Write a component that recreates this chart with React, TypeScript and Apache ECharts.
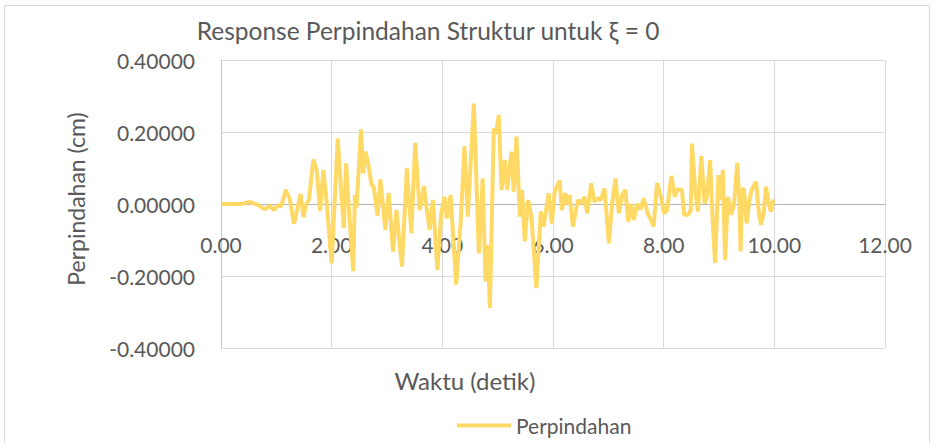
import React, { useEffect, useRef } from "react";
import * as echarts from "echarts";

const times: number[] = [
  0.0, 0.1, 0.2, 0.3, 0.4, 0.52, 0.6, 0.67, 0.79, 0.88, 0.96, 1.03, 1.09, 1.17, 1.24, 1.32, 1.38, 1.44, 1.49, 1.54,
  1.59, 1.67, 1.73, 1.79, 1.85, 1.91, 2.0, 2.11, 2.17, 2.22, 2.26, 2.31, 2.39, 2.42, 2.45, 2.53, 2.57, 2.61, 2.66, 2.72,
  2.76, 2.83, 2.88, 2.97, 3.03, 3.11, 3.17, 3.27, 3.36, 3.44, 3.51, 3.59, 3.67, 3.71, 3.77, 3.83, 3.91, 3.98, 4.04, 4.08,
  4.15, 4.25, 4.33, 4.4, 4.46, 4.57, 4.66, 4.73, 4.78, 4.82, 4.86, 4.93, 4.97, 5.02, 5.07, 5.13, 5.17, 5.25, 5.29, 5.34,
  5.4, 5.44, 5.49, 5.55, 5.61, 5.7, 5.78, 5.83, 5.92, 5.98, 6.03, 6.12, 6.16, 6.22, 6.27, 6.3, 6.36, 6.45, 6.51, 6.57,
  6.62, 6.69, 6.75, 6.81, 6.86, 6.93, 7.01, 7.07, 7.13, 7.19, 7.25, 7.31, 7.36, 7.41, 7.46, 7.52, 7.58, 7.64, 7.71, 7.77,
  7.82, 7.88, 7.95, 8.01, 8.06, 8.14, 8.2, 8.25, 8.33, 8.37, 8.44, 8.49, 8.51, 8.57, 8.62, 8.68, 8.74, 8.78, 8.84, 8.89,
  8.93, 8.99, 9.03, 9.07, 9.11, 9.16, 9.22, 9.27, 9.33, 9.37, 9.39, 9.42, 9.45, 9.5, 9.55, 9.59, 9.67, 9.72, 9.76, 9.81,
  9.85, 9.91, 9.94, 9.97, 10.0,
];

const displacement: number[] = [
  0.0, 0.0, 0.001, 0.0, 0.001, 0.006, 0.001, -0.003, -0.015, -0.005, -0.017, -0.003, -0.007, 0.039, 0.016, -0.055, -0.012, 0.028, -0.037, 0.0,
  0.012, 0.124, 0.094, -0.02, 0.094, 0.005, -0.165, 0.182, 0.04, -0.067, 0.113, -0.01, -0.187, 0.025, -0.01, 0.207, 0.085, 0.145, 0.113, 0.053,
  0.048, -0.033, 0.068, -0.072, 0.03, -0.132, -0.017, -0.174, 0.099, -0.081, 0.17, -0.017, 0.05, -0.005, -0.072, 0.011, -0.183, -0.026, 0.02, -0.04,
  0.025, -0.224, -0.054, 0.161, -0.035, 0.279, -0.137, 0.071, -0.215, -0.114, -0.289, 0.21, 0.195, 0.247, 0.039, 0.122, 0.039, 0.145, 0.034, 0.187,
  -0.035, 0.039, -0.104, 0.011, -0.035, -0.234, -0.021, -0.063, 0.03, -0.054, 0.034, 0.066, -0.017, 0.03, 0.0, 0.025, -0.063, 0.011, 0.002, 0.02,
  -0.026, 0.057, 0.006, 0.016, 0.011, 0.043, -0.109, 0.002, 0.071, -0.026, 0.025, 0.039, -0.049, 0.0, -0.044, 0.0, -0.015, 0.016, -0.026, -0.044,
  -0.063, 0.058, 0.02, -0.026, -0.017, 0.078, 0.02, 0.041, 0.039, -0.03, -0.03, -0.017, 0.168, 0.039, -0.021, 0.133, 0.002, 0.02, 0.122, -0.063,
  -0.164, 0.08, 0.011, 0.094, -0.155, 0.02, -0.03, -0.003, 0.114, 0.002, -0.132, 0.039, 0.043, -0.054, 0.011, 0.039, 0.062, -0.026, -0.058, -0.021,
  0.048, -0.008, -0.021, 0.006, 0.011,
];

const seriesName = "Perpindahan";
const titleText = "Response Perpindahan Struktur untuk ξ = 0";
const xTitle = "Waktu (detik)";
const yTitle = "Perpindahan (cm)";

const FONT = "Lato, 'Noto Sans', sans-serif";
const TEXT = "#595959";

export default function App() {
  const ref = useRef<HTMLDivElement>(null);
  useEffect(() => {
    if (!ref.current) return;
    const chart = echarts.init(ref.current, undefined, { renderer: "svg" });
    const data = times.map((t, i) => [t, displacement[i]]);
    chart.setOption({
      animation: false,
      backgroundColor: "#ffffff",
      grid: { left: 221, right: 49, top: 60, bottom: 95 },
      legend: {
        data: [seriesName],
        left: 452,
        top: 410,
        icon: "rect",
        itemWidth: 54,
        itemHeight: 4,
        textStyle: { color: TEXT, fontSize: 21, fontFamily: FONT },
      },
      xAxis: {
        type: "value",
        min: 0,
        max: 12,
        interval: 2,
        offset: -144,
        axisLine: { show: true, onZero: false, lineStyle: { color: "#b3b3b3", width: 1 } },
        axisTick: { show: false },
        axisLabel: {
          formatter: (v: number) => v.toFixed(2),
          color: TEXT,
          fontSize: 21,
          fontFamily: FONT,
          margin: 30,
        },
        splitLine: { show: true, lineStyle: { color: "#d9d9d9", width: 1 } },
      },
      yAxis: {
        type: "value",
        min: -0.4,
        max: 0.4,
        interval: 0.2,
        axisLine: { show: true, lineStyle: { color: "#c6c6c6", width: 1 } },
        axisTick: { show: false },
        axisLabel: {
          formatter: (v: number) => v.toFixed(5),
          color: TEXT,
          fontSize: 21,
          fontFamily: FONT,
          margin: 26,
        },
        splitLine: { show: true, lineStyle: { color: "#d9d9d9", width: 1 } },
      },
      graphic: [
        {
          type: "rect",
          shape: { x: 4.5, y: 5.5, width: 925, height: 470 },
          style: { fill: "none", stroke: "#d9d9d9", lineWidth: 1 },
          silent: true,
        },
        {
          type: "text",
          x: 428,
          y: 30,
          style: {
            text: titleText,
            fill: TEXT,
            fontSize: 24.5,
            fontFamily: FONT,
            align: "center",
            verticalAlign: "middle",
          },
        },
        {
          type: "text",
          x: 465,
          y: 380,
          style: {
            text: xTitle,
            fill: TEXT,
            fontSize: 24,
            fontFamily: FONT,
            align: "center",
            verticalAlign: "middle",
          },
        },
        {
          type: "text",
          x: 76,
          y: 199,
          rotation: Math.PI / 2,
          style: {
            text: yTitle,
            fill: TEXT,
            fontSize: 23,
            fontFamily: FONT,
            align: "center",
            verticalAlign: "middle",
          },
        },
      ],
      series: [
        {
          name: seriesName,
          type: "line",
          data,
          showSymbol: false,
          symbol: "none",
          lineStyle: { color: "#ffd966", width: 4 },
          itemStyle: { color: "#ffd966" },
          z: 3,
        },
      ],
    });
    return () => chart.dispose();
  }, []);
  return (
    <div
      ref={ref}
      style={{ position: "absolute", left: 0, top: 0, width: 934, height: 443, background: "#fff" }}
    />
  );
}
